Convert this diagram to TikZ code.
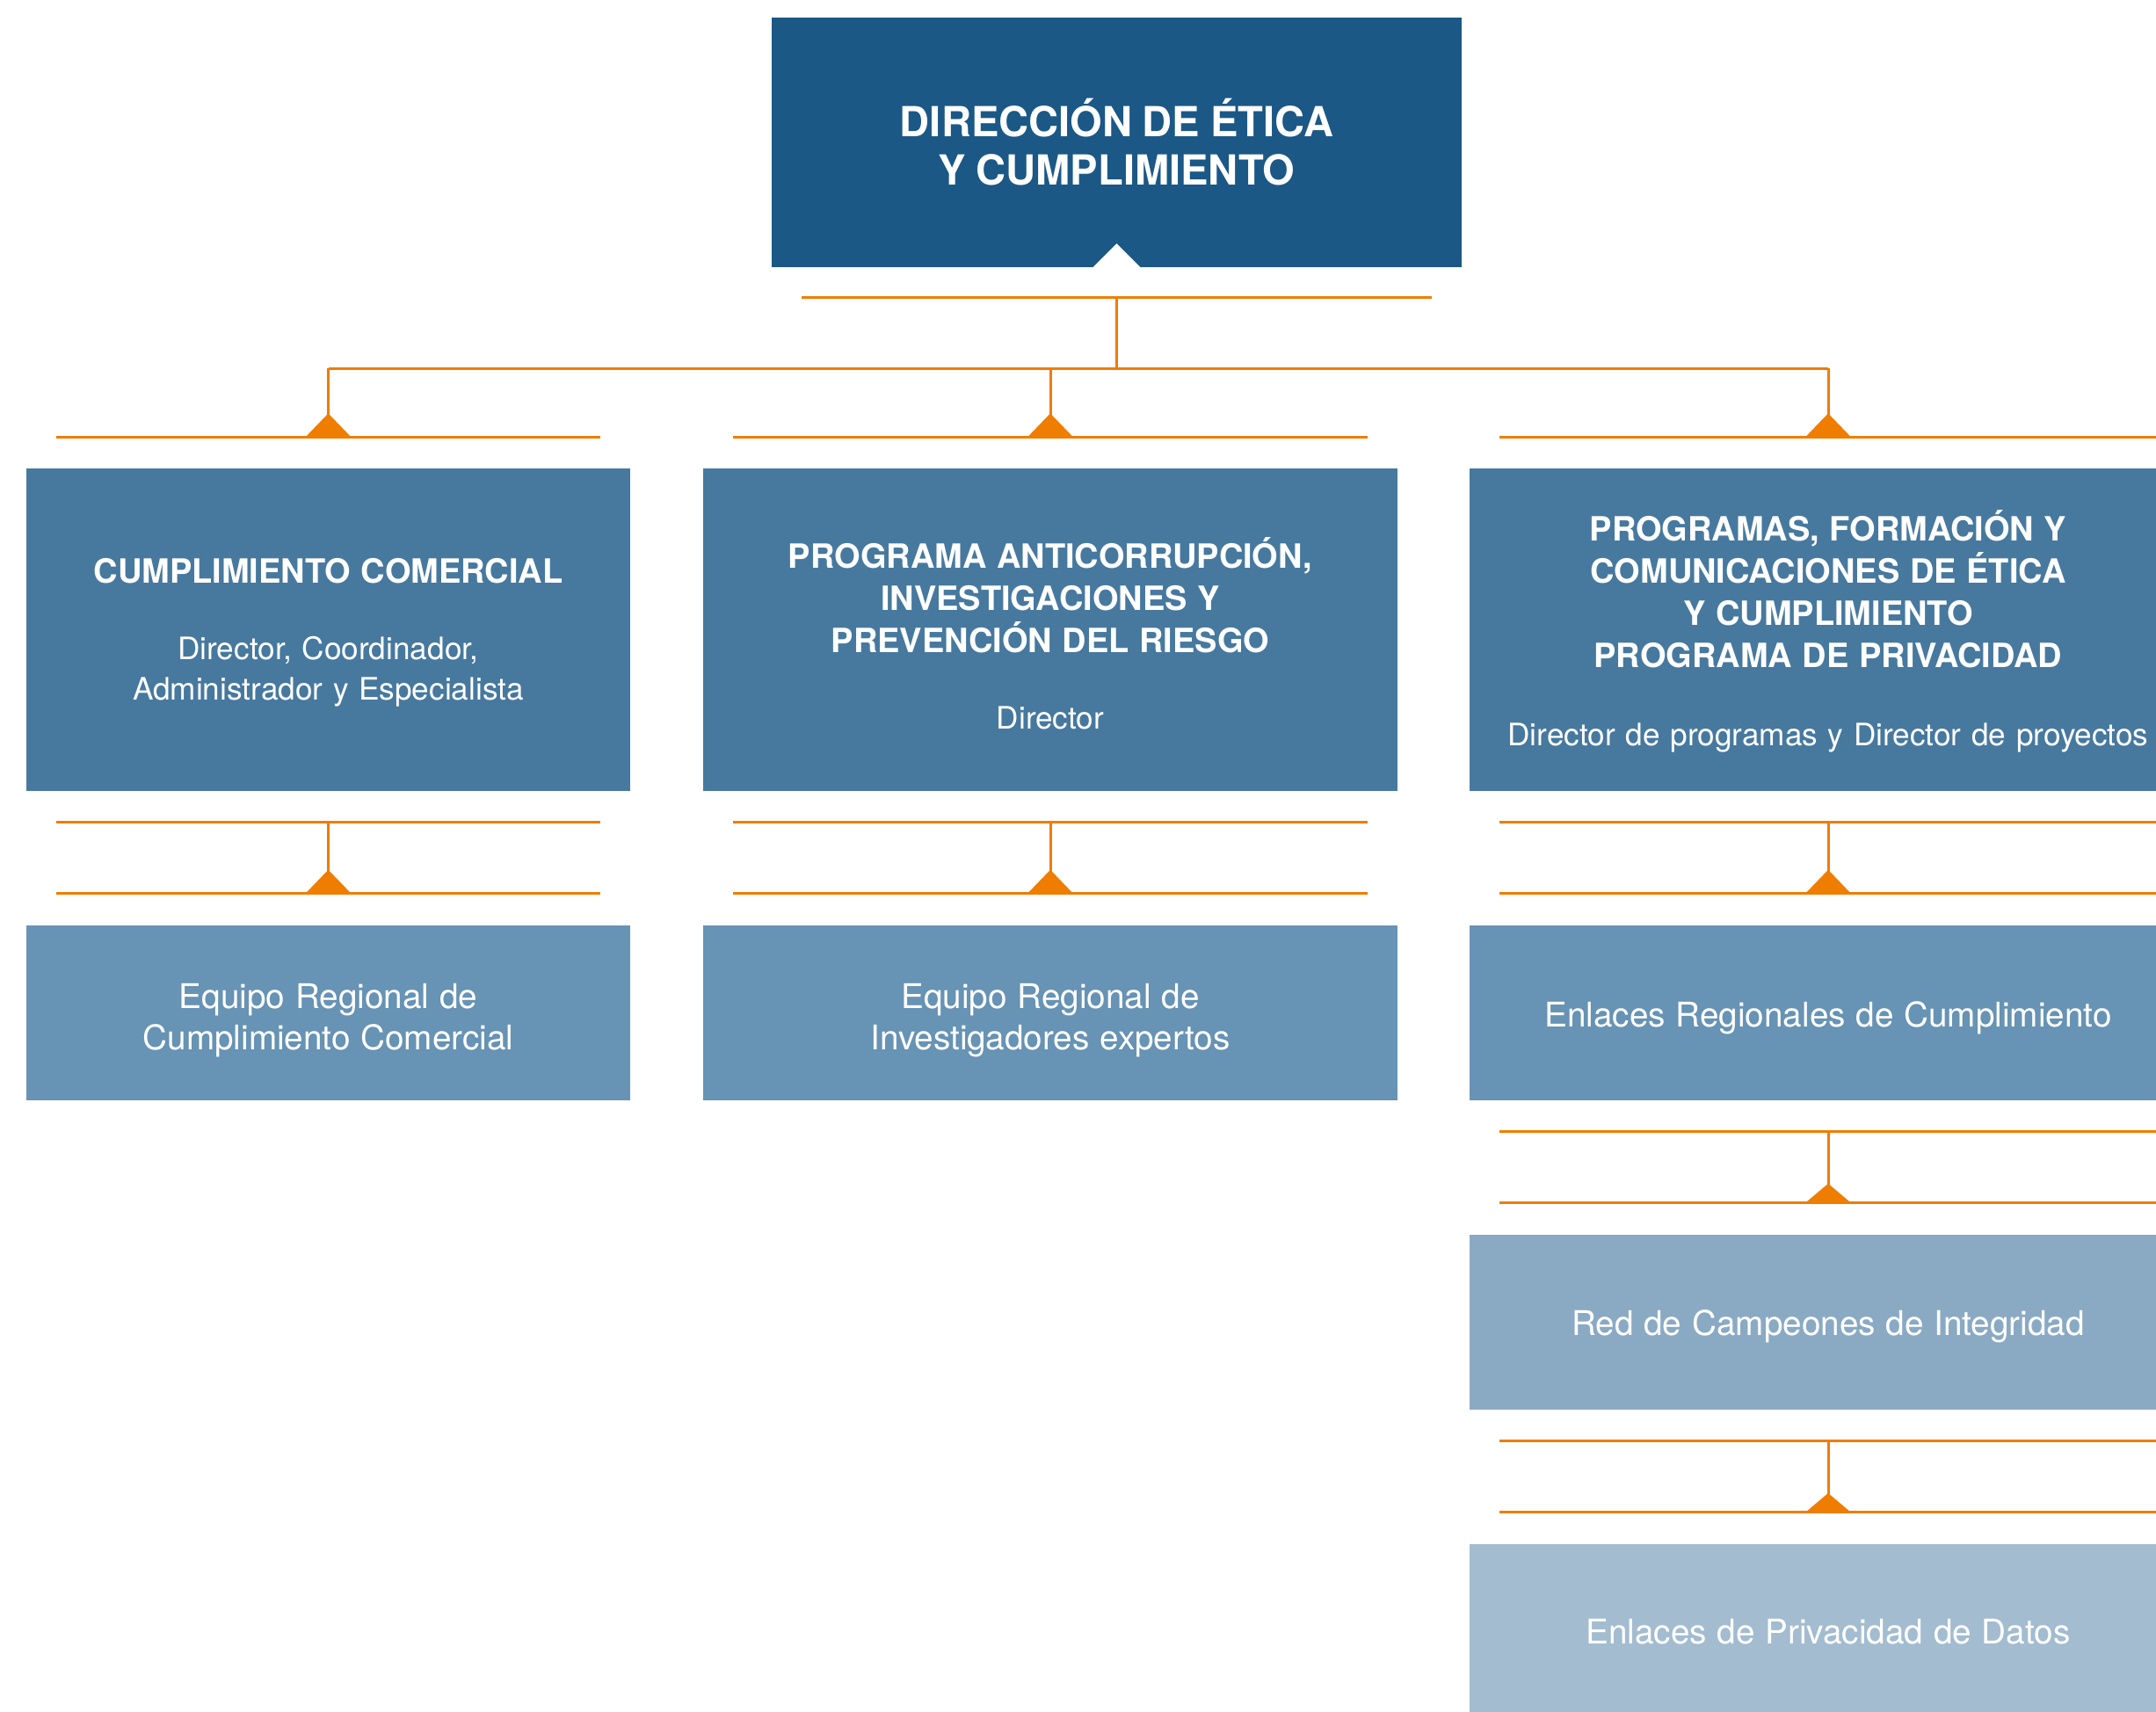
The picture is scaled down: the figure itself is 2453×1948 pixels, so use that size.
\documentclass[tikz,border=0pt]{standalone}
\usepackage{fontspec}
\setmainfont{TeX Gyre Heros}
\usetikzlibrary{calc}
\definecolor{topblue}{HTML}{1B5886}
\definecolor{lvla}{HTML}{47799F}
\definecolor{lvlb}{HTML}{6793B4}
\definecolor{lvlc}{HTML}{8AAAC4}
\definecolor{lvld}{HTML}{A3BCCF}
\definecolor{orng}{HTML}{EF7D00}
\newcommand\topfnt{\fontsize{13.4}{15.6}\selectfont\bfseries}
\newcommand\ttlfnt{\fontsize{10.8}{13.6}\selectfont\bfseries}
\newcommand\subfnt{\fontsize{10}{12.9}\selectfont\mdseries}
\newcommand\lowfnt{\fontsize{11}{13.4}\selectfont\mdseries}
% #1 upper node, #2 lower node, #3 triangle height
\newcommand\linkdown[3]{%
  \draw[bar] ($(#1.south west)+(34,36)$) -- ($(#1.south east)+(-34,36)$);
  \draw[bar] ($(#2.north west)+(34,-36)$) -- ($(#2.north east)+(-34,-36)$);
  \draw[bar] ($(#1.south)+(0,36)$) -- ($(#2.north)+(0,-36)$);
  \fill[orng] ($(#2.north)+(-26,-36)$) -- ($(#2.north)+(0,-36-#3)$) -- ($(#2.north)+(26,-36)$) -- cycle;
}
\begin{document}
\begin{tikzpicture}[x=0.01cm,y=-0.01cm,
  box/.style={inner sep=0pt, outer sep=0pt},
  txt/.style={inner sep=0pt, outer sep=0pt, text=white, align=center, text width=8cm},
  bar/.style={draw=orng, line width=0.85pt}]
\clip (0,0) rectangle (2453,1948);
\fill[white] (0,0) rectangle (2453,1948);

% top box
\node[box, fill=topblue, minimum width=7.85cm, minimum height=2.84cm] (top) at (1270.5,162) {};
\node[txt] (topt) at (top) {\topfnt DIRECCIÓN DE ÉTICA\\Y CUMPLIMIENTO\par};
\fill[white] ($(top.south)+(-28,1)$) -- ($(top.south)+(0,-27)$) -- ($(top.south)+(28,1)$) -- cycle;

% level 1
\node[box, fill=lvla, minimum width=6.87cm, minimum height=3.66cm] (c1) at (373.5,716.5) {};
\node[box, fill=lvla, minimum width=7.9cm, minimum height=3.66cm] (c2) at (1195,716.5) {};
\node[box, fill=lvla, minimum width=8.16cm, minimum height=3.66cm] (c3) at (2080,716.5) {};
\node[txt] (c1t) at ($(c1)+(0,3)$)
  {\ttlfnt CUMPLIMIENTO COMERCIAL\par\vspace{12pt}\subfnt Director, Coordinador,\\Administrador y Especialista\par};
\node[txt] (c2t) at ($(c2)+(0,4.5)$)
  {\ttlfnt PROGRAMA ANTICORRUPCIÓN,\\INVESTIGACIONES Y\\PREVENCIÓN DEL RIESGO\par\vspace{12pt}\subfnt Director\par};
\node[txt] (c3t) at ($(c3)+(0,2)$)
  {\ttlfnt PROGRAMAS, FORMACIÓN Y\\COMUNICACIONES DE ÉTICA\\Y CUMPLIMIENTO\\PROGRAMA DE PRIVACIDAD\par\vspace{12.5pt}\subfnt Director de programas y Director de proyectos\par};

% level 2
\node[box, fill=lvlb, minimum width=6.87cm, minimum height=1.99cm] (e1) at (373.5,1152.3) {};
\node[box, fill=lvlb, minimum width=7.9cm, minimum height=1.99cm] (e2) at (1195,1152.3) {};
\node[box, fill=lvlb, minimum width=8.16cm, minimum height=1.99cm] (e3) at (2080,1152.3) {};
\node[txt] (e1t) at ($(e1)+(0,9)$) {\lowfnt Equipo Regional de\\Cumplimiento Comercial\par};
\node[txt] (e2t) at ($(e2)+(0,9)$) {\lowfnt Equipo Regional de\\Investigadores expertos\par};
\node[txt] (e3t) at ($(e3)+(0,6)$) {\lowfnt Enlaces Regionales de Cumplimiento\par};

% level 3 and 4
\node[box, fill=lvlc, minimum width=8.16cm, minimum height=1.99cm] (r3) at (2080,1504.3) {};
\node[box, fill=lvld, minimum width=8.16cm, minimum height=1.99cm] (p3) at (2080,1856.5) {};
\node[txt] (r3t) at ($(r3)+(0,5)$) {\lowfnt Red de Campeones de Integridad\par};
\node[txt] (p3t) at (p3) {\lowfnt Enlaces de Privacidad de Datos\par};

% top connectors
\coordinate (hub) at ($(top.south)+(0,115)$);
\draw[bar] ($(top.south west)+(34,34)$) -- ($(top.south east)+(-34,34)$);
\draw[bar] ($(top.south)+(0,34)$) -- (hub);
\draw[bar] (c1.north |- hub) -- (c3.north |- hub);
\foreach \n in {c1,c2,c3}{
  \draw[bar] (\n.north |- hub) -- ($(\n.north)+(0,-36)$);
  \draw[bar] ($(\n.north west)+(34,-36)$) -- ($(\n.north east)+(-34,-36)$);
  \fill[orng] ($(\n.north)+(-26,-36)$) -- ($(\n.north)+(0,-63)$) -- ($(\n.north)+(26,-36)$) -- cycle;
}

% lower connectors
\linkdown{c1}{e1}{27}
\linkdown{c2}{e2}{27}
\linkdown{c3}{e3}{27}
\linkdown{e3}{r3}{22}
\linkdown{r3}{p3}{22}
\end{tikzpicture}
\end{document}
